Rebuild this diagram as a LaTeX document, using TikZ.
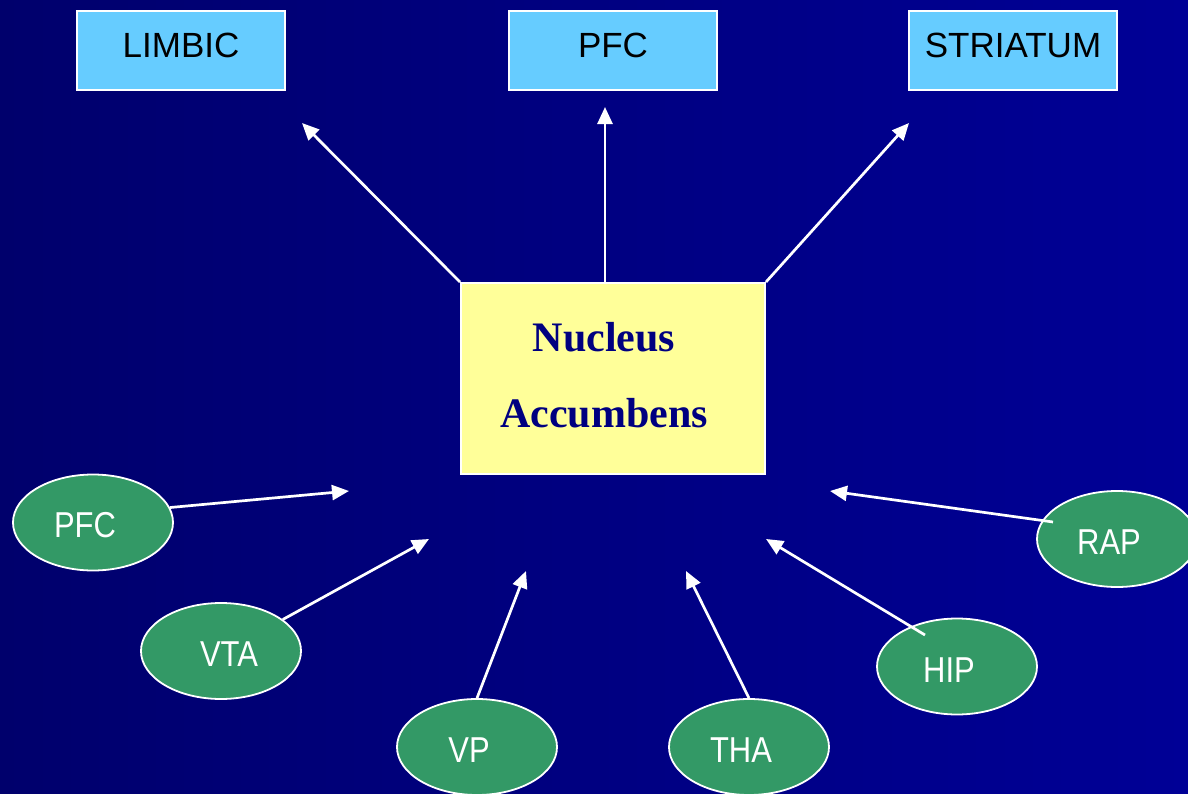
\documentclass[tikz,border=0pt]{standalone}
\usepackage{fontspec}
\setmainfont{Liberation Serif}
\newfontfamily\boxsans{Liberation Sans}
\newfontfamily\ellsans[FakeStretch=0.86]{Liberation Sans}
\usetikzlibrary{arrows.meta,calc,shapes.geometric}
\definecolor{bgleft}{RGB}{0,0,108}
\definecolor{bgright}{RGB}{0,0,150}
\definecolor{topfill}{RGB}{102,204,255}
\definecolor{naccfill}{RGB}{255,255,153}
\definecolor{ellfill}{RGB}{51,153,102}
\definecolor{navytext}{RGB}{0,0,128}
\tikzset{
  topbox/.style={draw=white, line width=2bp, fill=topfill, minimum width=208bp, minimum height=79bp, inner sep=0pt,
     font=\boxsans\fontsize{35bp}{40bp}\selectfont, text=black, text height=25.5bp, text depth=11bp},
  naccbox/.style={draw=white, line width=2bp, fill=naccfill, minimum width=304bp, minimum height=191bp, inner sep=0pt},
  nacctext/.style={font=\bfseries\fontsize{42bp}{76bp}\selectfont, text=navytext, align=center, inner sep=0pt},
  ell/.style={ellipse, draw=white, line width=1.8bp, fill=ellfill, minimum width=160bp, minimum height=96bp, inner sep=0pt},
  elltext/.style={font=\ellsans\fontsize{36bp}{40bp}\selectfont, text=white, inner sep=0pt},
  conn/.style={draw=white, line width=2.7bp, -{Triangle[length=17bp,width=15bp]}}
}
\begin{document}
\begin{tikzpicture}[x=1bp,y=-1bp]
\useasboundingbox (0,0) rectangle (1188,794);
\shade[left color=bgleft, right color=bgright] (0,0) rectangle (1188,794);

% top boxes
\node[topbox] (limbic) at (181,50.5) {LIMBIC};
\node[topbox] (pfctop) at (613,50.5) {PFC};
\node[topbox] (striatum) at (1013,50.5) {STRIATUM};

% central box
\node[naccbox] (nacc) at (613,378.5) {};
\node[nacctext] (nacclabel) at (604,375) {Nucleus\\Accumbens};

% ellipses
\node[ell] (pfc) at (93,522.5) {};
\node[ell] (vta) at (221,651) {};
\node[ell] (vp) at (477,747) {};
\node[ell] (tha) at (749,747) {};
\node[ell] (hip) at (957,666.5) {};
\node[ell] (rap) at (1117,539) {};

\node[elltext] (pfcl) at ($(pfc.center)+(-8,3)$) {PFC};
\node[elltext] (vtal) at ($(vta.center)+(8,3)$) {VTA};
\node[elltext] (vpl) at ($(vp.center)+(-8,3)$) {VP};
\node[elltext] (thal) at ($(tha.center)+(-8,3)$) {THA};
\node[elltext] (hipl) at ($(hip.center)+(-8,4)$) {HIP};
\node[elltext] (rapl) at ($(rap.center)+(-8,3)$) {RAP};

% free ends of arrows
\coordinate (tLimbic) at (302,123);
\coordinate (tPfc) at (605,107);
\coordinate (tStriatum) at (909,123);
\coordinate (tpfc) at (349,491);
\coordinate (tvta) at (429,539);
\coordinate (tvp) at (526,571);
\coordinate (ttha) at (686,571);
\coordinate (thip) at (766,539);
\coordinate (trap) at (830,491);
\coordinate (sPfcTop) at (605,283);
\coordinate (ship) at ($(hip.center)+(-32,-31.5)$);
\coordinate (srap) at ($(rap.center)+(-64,-17)$);

% outgoing arrows
\draw[conn] (nacc.north west) -- (tLimbic);
\draw[conn] (sPfcTop) -- (tPfc);
\draw[conn] (nacc.north east) -- (tStriatum);

% incoming arrows
\draw[conn] (pfc.11) -- (tpfc);
\draw[conn] (vta.27) -- (tvta);
\draw[conn] (vp.north) -- (tvp);
\draw[conn] (tha.north) -- (ttha);
\draw[conn] (ship) -- (thip);
\draw[conn] (srap) -- (trap);
\end{tikzpicture}
\end{document}
